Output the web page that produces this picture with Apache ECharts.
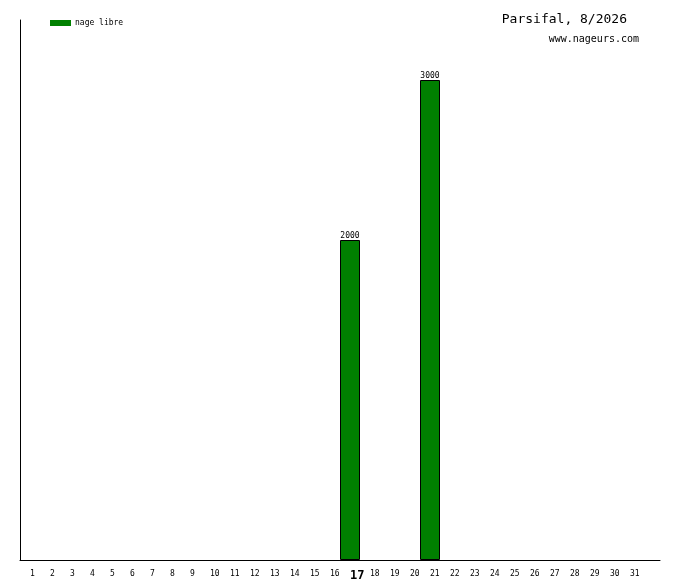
<!DOCTYPE html>
<html>
<head>
    <meta charset="utf-8">
    <title>Parsifal, 8/2026</title>
    <script src="https://cdn.jsdelivr.net/npm/echarts@6/dist/echarts.min.js"></script>
</head>
<body style="margin:0;background:#fff;">
<div id="main" style="width: 680px;height:580px;"></div>
<script type="text/javascript">
    // jours du mois (une case vide en plus au bout de l'axe)
    var days = [];
    for (var i = 1; i <= 31; i++) {
        days.push(String(i));
    }
    days.push('');
    var today = '17';

    // distances nagées (m), nage libre
    var nageLibre = [null, null, null, null, null, null, null, null, null, null,
        null, null, null, null, null, null, 2000, null, null, null,
        3000, null, null, null, null, null, null, null, null, null,
        null, null];

    var mono = 'DejaVu Sans Mono';
    var myChart = echarts.init(document.getElementById('main'));

    var option = {
        animation: false,
        backgroundColor: '#fff',
        title: [{
            text: 'Parsifal, 8/2026',
            right: 48,
            top: 8,
            textStyle: {fontFamily: mono, fontSize: 13, fontWeight: 'normal', color: '#000'}
        }, {
            text: 'www.nageurs.com',
            right: 36,
            top: 29,
            textStyle: {fontFamily: mono, fontSize: 10, fontWeight: 'normal', color: '#000'}
        }],
        legend: {
            left: 45,
            top: 14,
            itemWidth: 21,
            itemHeight: 6,
            itemGap: 4,
            icon: 'rect',
            itemStyle: {borderWidth: 0},
            textStyle: {fontFamily: mono, fontSize: 8, color: '#000', padding: [0, 0, 0, -1]},
            data: ['nage libre']
        },
        grid: {left: 20, top: 20, width: 640, height: 540, outerBoundsMode: 'none', containLabel: false},
        xAxis: {
            type: 'category',
            data: days,
            boundaryGap: true,
            axisLine: {lineStyle: {color: '#000', width: 1}},
            axisTick: {show: false},
            axisLabel: {
                interval: 0,
                margin: 10,
                align: 'left',
                fontFamily: mono,
                fontSize: 8,
                color: '#000',
                formatter: function (v) {
                    return v === today ? '{b|' + v + '}' : v;
                },
                rich: {
                    b: {fontFamily: mono, fontSize: 12, fontWeight: 'bold', color: '#000'}
                }
            }
        },
        yAxis: {
            type: 'value',
            min: 0,
            max: 3375,
            axisLine: {show: true, lineStyle: {color: '#000', width: 1}},
            axisTick: {show: false},
            axisLabel: {show: false},
            splitLine: {show: false}
        },
        series: [{
            name: 'nage libre',
            type: 'bar',
            barWidth: 20,
            data: nageLibre,
            itemStyle: {color: '#008000', borderColor: '#000', borderWidth: 1},
            label: {
                show: true,
                position: 'top',
                distance: 0,
                fontFamily: mono,
                fontSize: 8,
                color: '#000'
            }
        }]
    };
    myChart.setOption(option);
</script>
</body>
</html>
